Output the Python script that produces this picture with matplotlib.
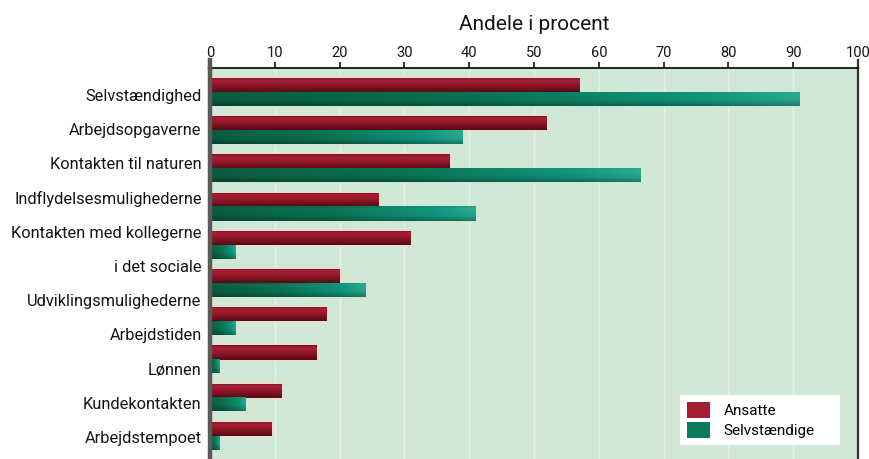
import numpy as np
import matplotlib
matplotlib.use("Agg")
import matplotlib.pyplot as plt
from matplotlib.colors import LinearSegmentedColormap
from matplotlib.patches import Patch
from matplotlib.lines import Line2D

# Reasons given for job satisfaction, share in percent
categories = [
    "Selvstændighed",
    "Arbejdsopgaverne",
    "Kontakten til naturen",
    "Indflydelsesmulighederne",
    "Kontakten med kollegerne\ni det sociale",
    "Udviklingsmulighederne",
    "Arbejdstiden",
    "Lønnen",
    "Kundekontakten",
    "Arbejdstempoet",
]
ansatte = [57, 52, 37, 26, 31, 20, 18, 16.5, 11, 9.5]
selvstaendige = [91, 39, 66.5, 41, 4, 24, 4, 1.5, 5.5, 1.5]
series_names = ["Ansatte", "Selvstændige"]
x_ticks = [0, 10, 20, 30, 40, 50, 60, 70, 80, 90, 100]
title = "Andele i procent"

FONT = "Roboto"
plt.rcParams["font.family"] = [FONT, "DejaVu Sans"]
TXT = "#141414"

BG = "#d1e8d6"
RED = "#971a2e"
GREEN = "#0d7658"

red_v = LinearSegmentedColormap.from_list(
    "red_v", [(0, "#7a1222"), (0.2, "#aa1e36"), (0.5, "#94172a"),
              (0.82, "#6c0e1d"), (1, "#560a16")])
green_h = LinearSegmentedColormap.from_list(
    "green_h", [(0, "#095a3d"), (0.45, "#0a6f50"), (0.85, "#10927a"),
                (1, "#28a48c")])

fig = plt.figure(figsize=(8.69, 4.59), dpi=100)
ax = fig.add_axes([210 / 869, 0.0, 648 / 869, 391 / 459])
ax.set_facecolor(BG)

n = len(categories)
pos = np.arange(n)
bar_h = 0.37
off = 0.18

red_bars = ax.barh(pos - off, ansatte, height=bar_h, color=RED,
                   edgecolor="#f1dcc4", linewidth=1.6, zorder=3)
green_bars = ax.barh(pos + off, selvstaendige, height=bar_h, color=GREEN,
                     edgecolor="#cfe6d2", linewidth=0.8, zorder=3)


def shade(patch, rgb):
    x0, y0 = patch.get_x(), patch.get_y()
    w, h = patch.get_width(), patch.get_height()
    im = ax.imshow(rgb, extent=(x0, x0 + w, y0 + h, y0), origin="upper",
                   aspect="auto", interpolation="bilinear", zorder=4)
    im.set_clip_path(patch)


ny, nx = 40, 120
tv = np.linspace(0, 1, ny)
th = np.linspace(0, 1, nx)
red_img = np.repeat(red_v(tv)[:, None, :3], nx, axis=1)
vert = np.interp(tv, [0, 0.15, 0.6, 0.85, 1], [0.95, 1.05, 1.0, 0.85, 0.72])
green_img = np.clip(green_h(th)[None, :, :3] * vert[:, None, None], 0, 1)

for p in red_bars:
    shade(p, red_img)
for p in green_bars:
    shade(p, green_img)

ax.set_xlim(0, 100)
ax.set_ylim(9.61, -0.63)

# x axis on top
ax.xaxis.tick_top()
ax.set_xticks(x_ticks)
ax.set_xticklabels([str(t) for t in x_ticks], fontsize=10.5, color=TXT)
ax.tick_params(axis="x", direction="out", length=4, width=1.4,
               color="#333333", pad=1.5)
ax.grid(axis="x", color="#e4f1e3", linewidth=1.0, zorder=1)
ax.set_axisbelow(True)

# category labels as an evenly spaced column of lines
label_lines = [ln for c in categories for ln in c.split("\n")]
ax.set_yticks(np.linspace(0.08, 9.03, len(label_lines)))
ax.set_yticklabels(label_lines, fontsize=11.8, color=TXT)
ax.tick_params(axis="y", left=False, length=0, pad=6)

ax.spines["bottom"].set_visible(False)
ax.spines["top"].set_color("#111111")
ax.spines["top"].set_linewidth(1.3)
ax.spines["left"].set_color("#5a5a5a")
ax.spines["left"].set_linewidth(3.2)
ax.spines["left"].set_zorder(5)
ax.spines["right"].set_color("#333333")
ax.spines["right"].set_linewidth(1.6)
ext = 1 + 8 / 391
ax.add_line(Line2D([0, 0], [1, ext], transform=ax.transAxes, color="#5a5a5a",
                   lw=3.2, clip_on=False, zorder=5))
ax.add_line(Line2D([1, 1], [1, ext], transform=ax.transAxes, color="#333333",
                   lw=1.6, clip_on=False))

ax.set_title(title, fontsize=15, color=TXT, pad=27)

handles = [Patch(facecolor="#a51d35", edgecolor="none"),
           Patch(facecolor="#0c7a5c", edgecolor="none")]
leg = ax.legend(handles, series_names, loc="lower left",
                bbox_to_anchor=(0.725, 0.036, 0.247, 0.12), mode="expand",
                fontsize=11, frameon=True, fancybox=False, framealpha=1,
                handlelength=1.5, handleheight=1.2, handletextpad=0.9,
                labelspacing=0.25, borderpad=0.45, borderaxespad=0)
leg.get_frame().set_facecolor("white")
leg.get_frame().set_edgecolor("none")
leg.set_zorder(6)

fig.savefig("out.png", dpi=100)
